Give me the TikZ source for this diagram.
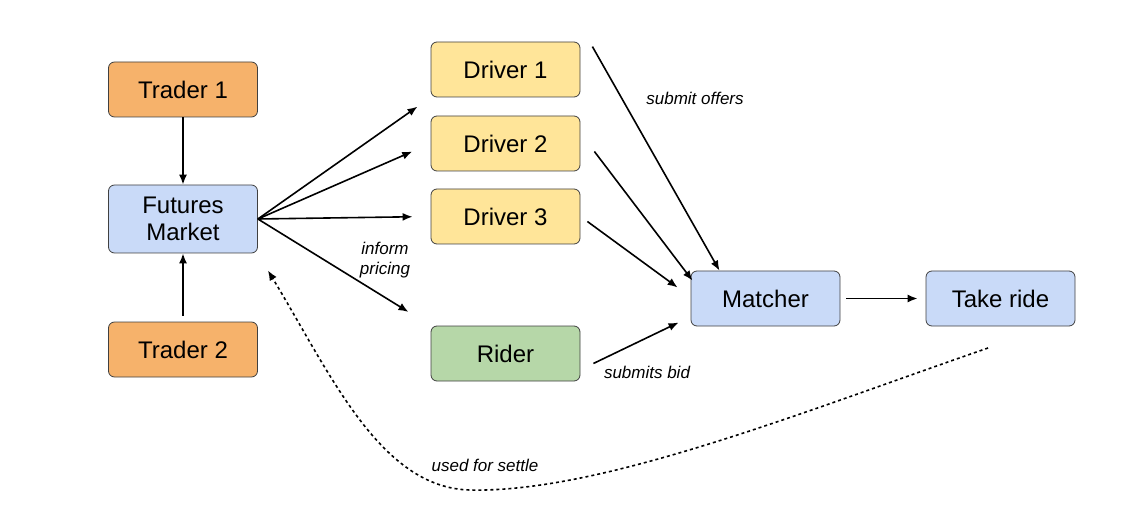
\documentclass[tikz,border=0pt]{standalone}
\usepackage{fontspec}
\setmainfont{Liberation Sans}
\usetikzlibrary{arrows.meta, positioning}
\definecolor{traderfill}{HTML}{F6B26B}
\definecolor{marketfill}{HTML}{C9DAF8}
\definecolor{driverfill}{HTML}{FFE599}
\definecolor{riderfill}{HTML}{B6D7A8}
\begin{document}
\begin{tikzpicture}[
      x=1pt, y=1pt,
      block/.style={rectangle, rounded corners=6pt, draw=black!75, thick,
                    minimum width=149pt, minimum height=55pt,
                    align=center, font=\fontsize{24}{27}\selectfont},
      trader/.style={block, fill=traderfill},
      market/.style={block, fill=marketfill},
      driver/.style={block, fill=driverfill},
      rider/.style={block, fill=riderfill},
      arrow/.style={-{Latex[length=10pt, width=8pt]}, line width=1.6pt},
      lbl/.style={font=\fontsize{17}{20}\selectfont\itshape, align=center}
    ]
        \useasboundingbox (0,0) rectangle (1133,523);
        \node[trader] (t1) at (183,433.5) {Trader 1};
        \node[market, minimum height=68pt] (fm) at (183,304) {Futures\\Market};
        \node[trader] (t2) at (183,173.5) {Trader 2};
        \node[driver] (d1) at (505.5,453.5) {Driver 1};
        \node[driver] (d2) at (505.5,379.5) {Driver 2};
        \node[driver] (d3) at (505.5,306.5) {Driver 3};
        \node[rider] (rider) at (505.5,169.5) {Rider};
        \node[market] (match) at (765.5,224.5) {Matcher};
        \node[market] (ride) at (1000.5,224.5) {Take ride};
        \coordinate (settle) at (988,175);
        \draw[arrow] (t1) -- (fm);
        \draw[arrow, shorten <=6pt] (t2) -- (fm);
        \draw[arrow, shorten >=16pt] (fm.east) -- (d1.south west);
        \draw[arrow, shorten >=20pt] (fm.east) -- (d2.west);
        \draw[arrow, shorten >=18pt] (fm.east) -- (d3.west);
        \draw[arrow, shorten >=26pt] (fm.east) -- (rider.north west);
        \draw[arrow] ([xshift=12pt,yshift=-5pt]d1.north east) -- ([xshift=-46pt]match.north);
        \draw[arrow] ([xshift=14pt,yshift=-8pt]d2.east) -- ([xshift=-73pt,yshift=-10pt]match.north);
        \draw[arrow] ([xshift=7pt,yshift=-5pt]d3.east) -- ([xshift=-13pt,yshift=11pt]match.west);
        \draw[arrow] ([xshift=13pt,yshift=-10pt]rider.east) -- ([xshift=-12pt,yshift=-24pt]match.west);
        \draw[arrow, shorten <=6pt, shorten >=8pt] (match) -- (ride);
        \draw[arrow, dashed] (settle) .. controls (800,110) and (600,30) .. (470,33)
              .. controls (380,35) and (330,150) .. ([xshift=10pt,yshift=-17pt]fm.south east);
        \node[lbl] at (695,425) {submit offers};
        \node[lbl] at (385,263) {inform\\pricing};
        \node[lbl] at (647,151) {submits bid};
        \node[lbl] at (485,58) {used for settle};
    \end{tikzpicture}
\end{document}
